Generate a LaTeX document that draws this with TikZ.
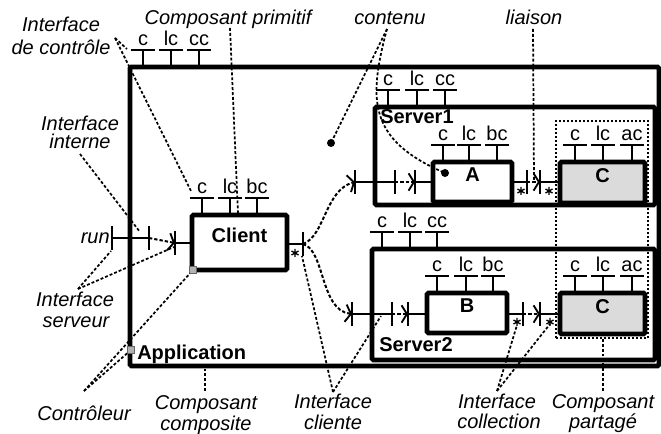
\documentclass[tikz,border=0pt]{standalone}
\usepackage{fontspec}
\setmainfont{Liberation Sans}
\usetikzlibrary{arrows.meta,fit}
\newcommand\ctl[4]{%
  \draw[ifl] (#2,#3) -- (#2,#3-17) coordinate (#1);
  \draw[ifl] (#2-12,#3-17) -- (#2+12,#3-17);
  \node[iflab] (#1-l) at (#2,#3-21) {#4};}
\newcommand\fbar[3]{%
  \draw[ifl] (#2,#3-12) -- (#2,#3+12);
  \coordinate (#1) at (#2,#3);}
\newcommand\astk[2]{%
  \draw[astroke] (#1,#2-4) -- (#1,#2+4) (#1-3.5,#2-2) -- (#1+3.5,#2+2) (#1-3.5,#2+2) -- (#1+3.5,#2-2);}
\begin{document}
\begin{tikzpicture}[x=0.75pt,y=-0.75pt,
  box/.style={draw, line width=3.4pt, rounded corners=1pt, inner sep=0pt, font=\fontsize{15}{18}\selectfont\bfseries},
  ifl/.style={line width=2.2pt},
  iflab/.style={anchor=base, inner sep=0pt, font=\fontsize{15}{18}\selectfont},
  bind/.style={line width=1.5pt, dash pattern=on 2.5pt off 1.5pt, -{Straight Barb[length=4pt,width=13pt,line width=1.4pt]}},
  ptr/.style={line width=1.3pt, dash pattern=on 2.2pt off 1.5pt},
  lab/.style={anchor=base, inner sep=0pt, font=\fontsize{15}{18}\selectfont\itshape},
  blab/.style={anchor=base west, inner sep=0pt, font=\fontsize{15}{18}\selectfont\bfseries},
  astroke/.style={line width=1pt},
  ctrlmark/.style={fill=gray!60, draw=gray!80!black, line width=0.4pt}]
\useasboundingbox (0,0) rectangle (661,434);

% ---------- boxes ----------
\node[box, fit={(130,67) (659,366)}] (app) {};
\node[box, fit={(375,107) (655,205)}] (s1) {};
\node[box, fit={(372,249) (655,360)}] (s2) {};
\node[box, fit={(192,215) (287,270)}] (client) {Client};
\node[box, fit={(433,162) (512,202)}] (A) {A};
\node[box, fill=gray!28, fit={(560,162) (645,203)}] (C1) {C};
\node[box, fit={(427,293) (507,333)}] (B) {B};
\node[box, fill=gray!28, fit={(560,293) (645,334)}] (C2) {C};
\node[draw, line width=1.2pt, dash pattern=on 1.5pt off 1.5pt, inner sep=0pt, fit={(556,121) (648,338)}] (shared) {};

\node[blab] (appl) at (137,360) {Application};
\node[blab] (s1l) at (380,124) {Server1};
\node[blab] (s2l) at (379,352) {Server2};

% ---------- control interfaces ----------
\ctl{appc}{143}{67}{c}\ctl{applc}{171}{67}{lc}\ctl{appcc}{199}{67}{cc}
\ctl{clc}{202}{215}{c}\ctl{cllc}{230}{215}{lc}\ctl{clbc}{257}{215}{bc}
\ctl{s1c}{388}{107}{c}\ctl{s1lc}{417}{107}{lc}\ctl{s1cc}{445}{107}{cc}
\ctl{ac}{443}{162}{c}\ctl{alc}{469}{162}{lc}\ctl{abc}{497}{162}{bc}
\ctl{c1c}{575}{162}{c}\ctl{c1lc}{603}{162}{lc}\ctl{c1ac}{632}{162}{ac}
\ctl{s2c}{382}{249}{c}\ctl{s2lc}{410}{249}{lc}\ctl{s2cc}{437}{249}{cc}
\ctl{bc}{437}{293}{c}\ctl{blc}{466}{293}{lc}\ctl{bbc}{493}{293}{bc}
\ctl{c2c}{575}{293}{c}\ctl{c2lc}{603}{293}{lc}\ctl{c2ac}{632}{293}{ac}

% ---------- functional interfaces ----------
\node[lab, anchor=base east] (run) at (110,244) {run};
\fbar{runo}{112}{238}\fbar{runi}{149}{238}
\draw[ifl] (runo) -- (runi);
\fbar{cls}{175}{243}\draw[ifl] (cls) -- (client.west |- cls);
\fbar{clcl}{303}{244}\draw[ifl] (client.east |- clcl) -- (clcl);
\astk{295}{253}

\fbar{s1o}{355}{182}\fbar{s1i}{395}{182}\draw[ifl] (s1o) -- (s1i);
\fbar{as}{415}{182}\draw[ifl] (as) -- (A.west |- as);
\fbar{acl}{527}{182}\draw[ifl] (A.east |- acl) -- (acl);
\fbar{c1s}{540}{182}\draw[ifl] (c1s) -- (C1.west |- c1s);
\astk{521}{191}\astk{549}{191}

\fbar{s2o}{352}{314}\fbar{s2i}{392}{314}\draw[ifl] (s2o) -- (s2i);
\fbar{bs}{408}{314}\draw[ifl] (bs) -- (B.west |- bs);
\fbar{bcl}{523}{314}\draw[ifl] (B.east |- bcl) -- (bcl);
\fbar{c2s}{540}{314}\draw[ifl] (c2s) -- (C2.west |- c2s);
\astk{517}{322}\astk{550}{322}

% ---------- bindings ----------
\draw[bind] (runi) -- (cls);
\draw[bind] (clcl) .. controls (325,236) and (325,190) .. (s1o);
\draw[bind] (clcl) .. controls (325,250) and (320,310) .. (s2o);
\draw[bind] (s1i) -- (as);
\draw[bind] (acl) -- (c1s);
\draw[bind] (s2i) -- (bs);
\draw[bind] (bcl) -- (c2s);

% ---------- content dots and controller marks ----------
\fill (331,143) circle (3pt) coordinate (dotapp);
\fill (445,173) circle (3pt) coordinate (dota);
\node[ctrlmark, minimum size=5pt, inner sep=0pt] (ctlapp) at (131,350) {};
\node[ctrlmark, minimum size=5pt, inner sep=0pt] (ctlcl) at (193,270) {};

% ---------- annotations ----------
\node[lab] (t1a) at (61,32) {Interface};
\node[lab] (t1b) at (61,55) {de contrôle};
\node[lab] (t2) at (228,25) {Composant primitif};
\node[lab] (t3) at (390,25) {contenu};
\node[lab] (t4) at (534,25) {liaison};
\node[lab] (t5a) at (80,131) {Interface};
\node[lab] (t5b) at (80,149) {interne};
\node[lab] (t6a) at (75,307) {Interface};
\node[lab] (t6b) at (76,328) {serveur};
\node[lab] (t7) at (84,421) {Contrôleur};
\node[lab] (t8a) at (206,410) {Composant};
\node[lab] (t8b) at (206,431) {composite};
\node[lab] (t9a) at (333,409) {Interface};
\node[lab] (t9b) at (333,430) {cliente};
\node[lab] (t10a) at (497,409) {Interface};
\node[lab] (t10b) at (499,429) {collection};
\node[lab] (t11a) at (603,409) {Composant};
\node[lab] (t11b) at (603,429) {partagé};

\coordinate (p1) at (115,38);
\coordinate (p2) at (230,28);
\coordinate (p3) at (387,29);
\coordinate (p4) at (533,29);
\coordinate (p5) at (80,154);
\coordinate (p6) at (78,289);
\coordinate (p7) at (84,391);
\coordinate (p8) at (205,391);
\coordinate (p9) at (333,392);
\coordinate (p10) at (497,391);
\coordinate (p11) at (603,391);

\draw[ptr] (p1) -- (127,49);
\draw[ptr] (p1) -- (191,191);
\draw[ptr] (p2) -- (238,214);
\draw[ptr] (p3) -- (dotapp);
\draw[ptr] (p3) .. controls (368,100) and (368,140) .. (dota);
\draw[ptr] (p4) -- (534,180);
\draw[ptr] (p5) -- (140,232);
\draw[ptr] (p6) -- (111,251);
\draw[ptr] (p6) -- (174,247);
\draw[ptr] (p7) -- (ctlapp);
\draw[ptr] (p7) -- (ctlcl);
\draw[ptr] (p8) -- (205,369);
\draw[ptr] (p9) -- (302,256);
\draw[ptr] (p9) -- (381,316);
\draw[ptr] (p10) -- (517,325);
\draw[ptr] (p10) -- (550,324);
\draw[ptr] (p11) -- (shared.south -| p11);
\end{tikzpicture}
\end{document}
